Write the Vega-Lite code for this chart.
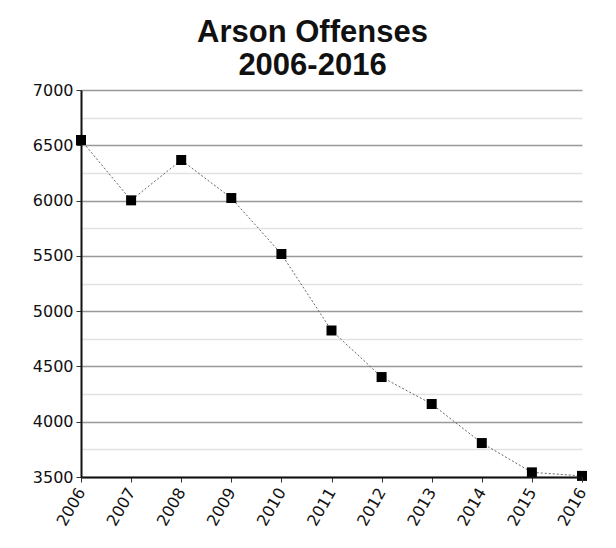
{
  "$schema": "https://vega.github.io/schema/vega-lite/v6.json",
  "width": 501,
  "height": 387,
  "autosize": "none",
  "padding": {"left": 81, "top": 90, "right": 34, "bottom": 71},
  "background": "white",
  "title": {
    "text": ["Arson Offenses", "2006-2016"],
    "font": "Liberation Sans",
    "fontSize": 31,
    "fontWeight": "bold",
    "color": "#111",
    "lineHeight": 33,
    "anchor": "middle",
    "dx": -19,
    "offset": 0
  },
  "data": {
    "values": [
      {"year": 2006, "offenses": 6548},
      {"year": 2007, "offenses": 6002},
      {"year": 2008, "offenses": 6367},
      {"year": 2009, "offenses": 6023},
      {"year": 2010, "offenses": 5517},
      {"year": 2011, "offenses": 4825},
      {"year": 2012, "offenses": 4404},
      {"year": 2013, "offenses": 4160},
      {"year": 2014, "offenses": 3807},
      {"year": 2015, "offenses": 3542},
      {"year": 2016, "offenses": 3510}
    ]
  },
  "encoding": {
    "x": {
      "field": "year",
      "type": "quantitative",
      "scale": {"domain": [2006, 2016], "nice": false, "zero": false},
      "axis": {
        "title": null,
        "values": [2006, 2007, 2008, 2009, 2010, 2011, 2012, 2013, 2014, 2015, 2016],
        "format": "d",
        "labelAngle": -60,
        "labelAlign": "right",
        "labelBaseline": "middle",
        "labelFont": "DejaVu Sans",
        "labelFontSize": 16,
        "labelColor": "#111",
        "labelPadding": 7,
        "domainColor": "#111",
        "domainWidth": 2,
        "tickColor": "#333",
        "tickSize": 5,
        "tickWidth": 1,
        "grid": false,
        "zindex": 1
      }
    },
    "y": {
      "field": "offenses",
      "type": "quantitative",
      "scale": {"domain": [3500, 7000], "nice": false, "zero": false},
      "axis": {
        "title": null,
        "values": [3500, 3750, 4000, 4250, 4500, 4750, 5000, 5250, 5500, 5750, 6000, 6250, 6500, 6750, 7000],
        "labelExpr": "datum.value % 500 === 0 ? datum.value : ''",
        "labelFont": "DejaVu Sans",
        "labelFontSize": 16,
        "labelColor": "#111",
        "labelPadding": 3,
        "domainColor": "#111",
        "domainWidth": 2,
        "tickSize": 5,
        "tickWidth": 1,
        "tickColor": {"condition": {"test": "datum.value % 500 === 0", "value": "#333"}, "value": "transparent"},
        "grid": true,
        "gridColor": {"condition": {"test": "datum.value % 500 === 0", "value": "#999"}, "value": "#e2e2e2"},
        "gridWidth": 1.5,
        "gridOpacity": 1,
        "zindex": 0
      }
    }
  },
  "layer": [
    {
      "mark": {"type": "line", "color": "#666", "strokeWidth": 1, "strokeDash": [2, 2]}
    },
    {
      "mark": {"type": "point", "shape": "square", "filled": true, "color": "black", "size": 100, "opacity": 1}
    }
  ],
  "config": {
    "view": {"stroke": null}
  }
}
